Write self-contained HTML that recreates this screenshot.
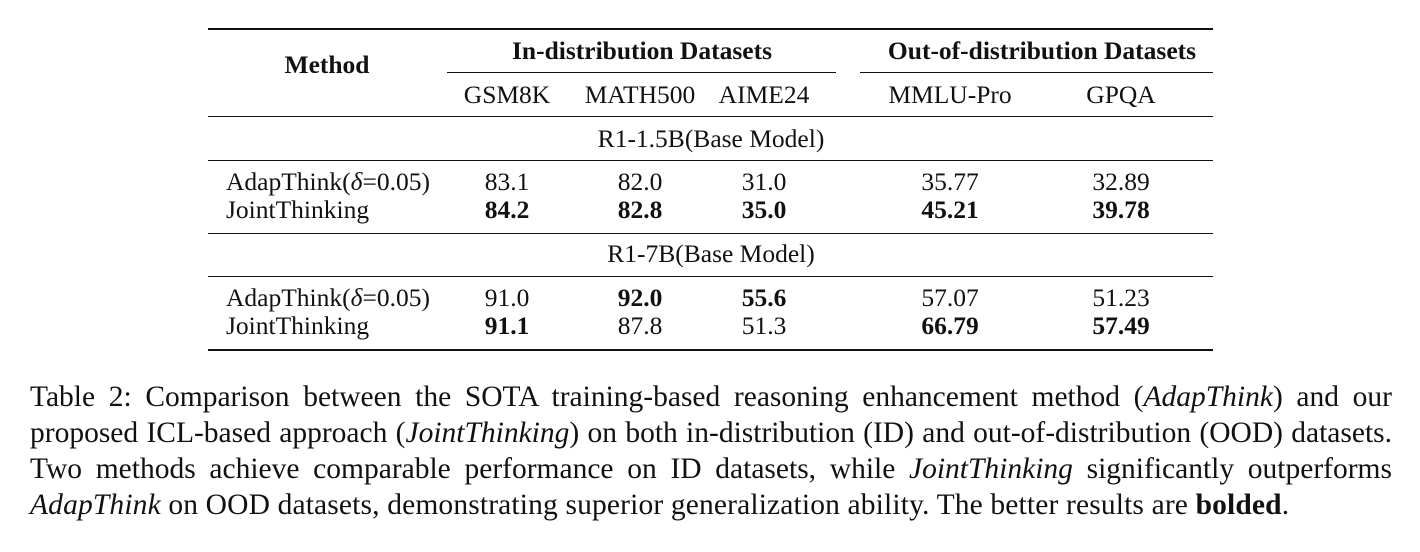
<!DOCTYPE html>
<html><head><meta charset="utf-8"><style>
html,body{margin:0;padding:0;background:#fff;}
body{width:1420px;height:552px;position:relative;overflow:hidden;font-family:"Liberation Serif",serif;color:#111;}
.t{position:absolute;font-size:25.5px;line-height:26px;white-space:nowrap;transform:translate(-50%,-50%);}
.l{position:absolute;font-size:25.5px;line-height:26px;white-space:nowrap;transform:translateY(-50%);}
.b{font-weight:bold;}
.r{position:absolute;background:#111;}
.cl{position:absolute;left:30px;width:1362px;font-size:29.5px;line-height:36px;white-space:nowrap;text-align:justify;text-align-last:justify;transform:translateY(-50%);}
.cl.last{text-align-last:left;letter-spacing:0.15px;}
</style></head><body>
<div>
<div class="r" style="left:208px;top:28px;width:1005px;height:2px"></div>
<div class="t b" style="left:327px;top:65px">Method</div>
<div class="t b" style="left:642px;top:51px">In-distribution Datasets</div>
<div class="t b" style="left:1042px;top:51px">Out-of-distribution Datasets</div>
<div class="r" style="left:447px;top:72px;width:389px;height:1px"></div>
<div class="r" style="left:860px;top:72px;width:353px;height:1px"></div>
<div class="t" style="left:507px;top:95px">GSM8K</div>
<div class="t" style="left:640px;top:95px">MATH500</div>
<div class="t" style="left:764px;top:95px">AIME24</div>
<div class="t" style="left:950px;top:95px">MMLU-Pro</div>
<div class="t" style="left:1121px;top:95px">GPQA</div>
<div class="r" style="left:208px;top:116px;width:1005px;height:1px"></div>
<div class="t" style="left:711px;top:139px">R1-1.5B(Base Model)</div>
<div class="r" style="left:208px;top:160px;width:1005px;height:1px"></div>
<div class="l" style="left:226px;top:182px">AdapThink(<i>δ</i>=0.05)</div>
<div class="t" style="left:507px;top:182px">83.1</div>
<div class="t" style="left:640px;top:182px">82.0</div>
<div class="t" style="left:764px;top:182px">31.0</div>
<div class="t" style="left:950px;top:182px">35.77</div>
<div class="t" style="left:1121px;top:182px">32.89</div>
<div class="l" style="left:226px;top:210px">JointThinking</div>
<div class="t b" style="left:507px;top:210px">84.2</div>
<div class="t b" style="left:640px;top:210px">82.8</div>
<div class="t b" style="left:764px;top:210px">35.0</div>
<div class="t b" style="left:950px;top:210px">45.21</div>
<div class="t b" style="left:1121px;top:210px">39.78</div>
<div class="r" style="left:208px;top:233px;width:1005px;height:1px"></div>
<div class="t" style="left:711px;top:254px">R1-7B(Base Model)</div>
<div class="r" style="left:208px;top:276px;width:1005px;height:1px"></div>
<div class="l" style="left:226px;top:298px">AdapThink(<i>δ</i>=0.05)</div>
<div class="t" style="left:507px;top:298px">91.0</div>
<div class="t b" style="left:640px;top:298px">92.0</div>
<div class="t b" style="left:764px;top:298px">55.6</div>
<div class="t" style="left:950px;top:298px">57.07</div>
<div class="t" style="left:1121px;top:298px">51.23</div>
<div class="l" style="left:226px;top:326px">JointThinking</div>
<div class="t b" style="left:507px;top:326px">91.1</div>
<div class="t" style="left:640px;top:326px">87.8</div>
<div class="t" style="left:764px;top:326px">51.3</div>
<div class="t b" style="left:950px;top:326px">66.79</div>
<div class="t b" style="left:1121px;top:326px">57.49</div>
<div class="r" style="left:208px;top:349px;width:1005px;height:2px"></div>
</div>
<div>
<div class="cl" style="top:397px">Table 2: Comparison between the SOTA training-based reasoning enhancement method (<i>AdapThink</i>) and our</div>
<div class="cl" style="top:433px">proposed ICL-based approach (<i>JointThinking</i>) on both in-distribution (ID) and out-of-distribution (OOD) datasets.</div>
<div class="cl" style="top:469px">Two methods achieve comparable performance on ID datasets, while <i>JointThinking</i> significantly outperforms</div>
<div class="cl last" style="top:505px"><i>AdapThink</i> on OOD datasets, demonstrating superior generalization ability. The better results are <b>bolded</b>.</div>
</div>
</body></html>
